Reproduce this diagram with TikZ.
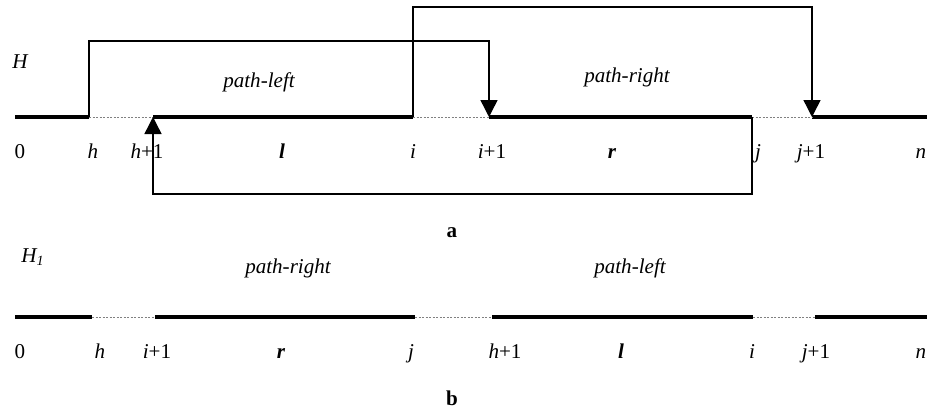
\documentclass[tikz,border=0pt]{standalone}
\usepackage{fontspec}
\setmainfont{Liberation Serif}
\usetikzlibrary{arrows.meta}
\tikzset{
  seg/.style={line width=2.3pt, line cap=butt},
  gap/.style={dash pattern=on 1.2pt off 0.8pt, gray, line width=0.5pt},
  link/.style={line width=0.8pt},
  linkarrow/.style={link, -{Triangle[length=3.4mm,width=3.4mm]}},
  tick/.style={font=\fontsize{12}{14}\selectfont, anchor=base},
  pathlabel/.style={font=\fontsize{12}{14}\selectfont\itshape, anchor=base},
  caption/.style={font=\fontsize{12}{14}\selectfont\bfseries, anchor=base}
}
\begin{document}
\begin{tikzpicture}[x=0.02cm, y=-0.02cm]
\useasboundingbox (0,0) rectangle (929,410);

% a: the path H
\foreach \n/\x in {0/15, h/89, h1/153, i/413, i1/489, j/752, j1/812, n/927} {
  \coordinate (a\n) at (\x,117);
}
\node[pathlabel] (aH) at (20,68) {H};
\node[pathlabel] (aleft) at (259,87) {path-left};
\node[pathlabel] (aright) at (627,82) {path-right};

\draw[seg] (a0) -- (ah);
\draw[seg] (ah1) -- (ai);
\draw[seg] (ai1) -- (aj);
\draw[seg] (aj1) -- (an);
\draw[gap] (ah) -- (ah1);
\draw[gap] (ai) -- (ai1);
\draw[gap] (aj) -- (aj1);

\draw[linkarrow] (ah) -- ++(0,-76) -| (ai1);
\draw[linkarrow] (ai) -- ++(0,-110) -| (aj1);
\draw[linkarrow] (aj) -- ++(0,77) -| (ah1);

\foreach \n/\x/\t in {0/20/{0}, h/93/{\textit{h}}, h1/147/{\textit{h}+1}, l/282/{\textbf{\textit{l}}},
    i/413/{\textit{i}}, i1/492/{\textit{i}+1}, r/612/{\textbf{\textit{r}}}, j/758/{\textit{j}},
    j1/811/{\textit{j}+1}, n/921/{\textit{n}}} {
  \node[tick] (atick\n) at (\x,158) {\t};
}
\node[caption] (acap) at (452,237) {a};

% b: the path H_1
\foreach \n/\x in {0/15, h/92, i1/155, j/415, h1/492, i/753, j1/815, n/927} {
  \coordinate (b\n) at (\x,317);
}
\node[pathlabel] (bH) at (33,262) {H\textsubscript{1}};
\node[pathlabel] (bright) at (288,273) {path-right};
\node[pathlabel] (bleft) at (630,273) {path-left};

\draw[seg] (b0) -- (bh);
\draw[seg] (bi1) -- (bj);
\draw[seg] (bh1) -- (bi);
\draw[seg] (bj1) -- (bn);
\draw[gap] (bh) -- (bi1);
\draw[gap] (bj) -- (bh1);
\draw[gap] (bi) -- (bj1);

\foreach \n/\x/\t in {0/20/{0}, h/100/{\textit{h}}, i1/157/{\textit{i}+1}, r/281/{\textbf{\textit{r}}},
    j/411/{\textit{j}}, h1/505/{\textit{h}+1}, l/621/{\textbf{\textit{l}}}, i/752/{\textit{i}},
    j1/816/{\textit{j}+1}, n/921/{\textit{n}}} {
  \node[tick] (btick\n) at (\x,358) {\t};
}
\node[caption] (bcap) at (452,405) {b};

\end{tikzpicture}
\end{document}
